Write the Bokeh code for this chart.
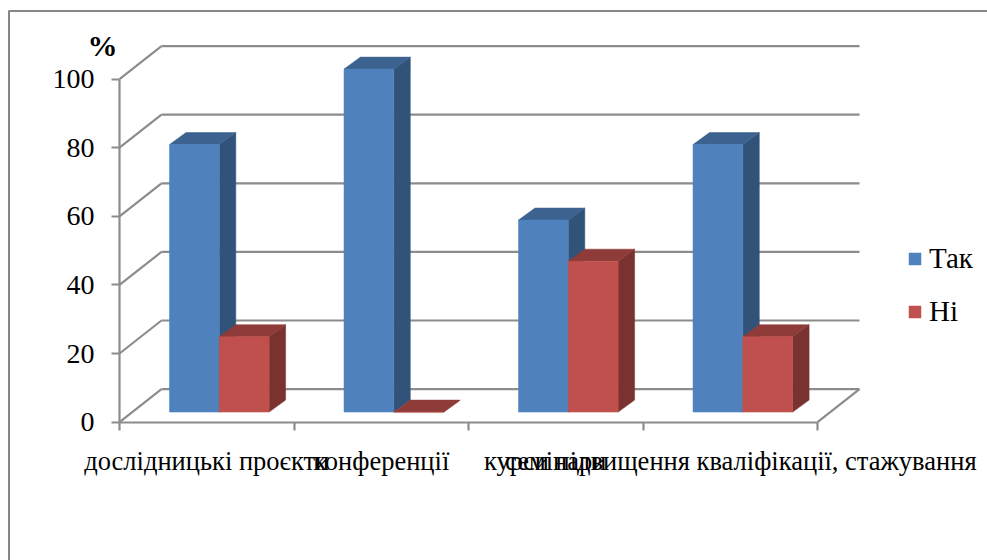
from bokeh.plotting import figure
from bokeh.embed import file_html
from bokeh.resources import INLINE
from bokeh.models import (ColumnDataSource, FixedTicker, Label, Legend, LegendItem,
                          LinearAxis, Range1d)

categories = ["дослідницькі проєкти", "конференції", "семінари",
              "курси підвищення кваліфікації, стажування"]
tak = [78, 100, 56, 78]
ni = [22, 0, 44, 22]
y_ticks = [0, 20, 40, 60, 80, 100]

W, H = 987, 560
PX = 174.5            # pixels per category
PY = 3.43             # pixels per percent
X0, Y0 = 119, 421.6   # canvas pixel of the axes origin


def dx(px):
    return px / PX


def dy(px):
    return px / PY


p = figure(width=W, height=H, output_backend="svg", toolbar_location=None,
           x_range=Range1d(dx(-X0), dx(W - X0)),
           y_range=Range1d(dy(-(H - Y0)), dy(Y0)),
           min_border=0, min_border_left=0, min_border_right=0,
           min_border_top=0, min_border_bottom=0, x_axis_type=None, y_axis_type=None)
p.grid.visible = False
p.outline_line_color = None
p.background_fill_color = "white"
p.border_fill_color = "white"

GRID = "#8c8c8c"
# outer chart frame
p.multi_line([[dx(-X0 + 8.5), dx(-X0 + 8.5), dx(W - X0)]],
             [[dy(-(H - Y0)), dy(Y0 - 10.5), dy(Y0 - 10.5)]], line_color="#868686", line_width=2)

# 3D walls: back gridlines and left wall diagonals
WX, WY = dx(42), dy(33)
n = len(categories)
p.multi_line([[WX, n + WX] for t in y_ticks], [[t + WY, t + WY] for t in y_ticks],
             line_color=GRID, line_width=2.2)
p.multi_line([[0, WX] for t in y_ticks], [[t, t + WY] for t in y_ticks],
             line_color=GRID, line_width=2.2)
p.line([n, n + WX], [0, WY], line_color=GRID, line_width=2.2)

# bars
BW = dx(49.8)
OX, OY = dx(50), dy(10)
SX, SY = dx(16.5), dy(12)
series = [("Так", tak, 0, "#4F81BD", "#325379", "#3C6390"),
          ("Ні", ni, 1, "#C0504D", "#7A3230", "#8E3B39")]
items = []
for name, vals, k, front, side, top in series:
    left = [i + OX + k * BW for i in range(n)]
    right = [a + BW for a in left]
    base = [OY] * n
    tops = [v + OY for v in vals]
    # side faces
    p.patches([[r, r, r + SX, r + SX] for r in right],
              [[b, t, t + SY, b + SY] for b, t in zip(base, tops)],
              fill_color=side, line_color=side, line_width=0.5)
    # top faces
    p.patches([[a, r, r + SX, a + SX] for a, r in zip(left, right)],
              [[t, t, t + SY, t + SY] for t in tops],
              fill_color=top, line_color=top, line_width=0.5)
    # front faces
    src = ColumnDataSource(dict(left=left, right=right, bottom=base, top=tops))
    r = p.quad(left="left", right="right", bottom="bottom", top="top", source=src,
               fill_color=front, line_color=front, line_width=0.5)
    items.append(LegendItem(label=name, renderers=[r]))

# axes
yaxis = LinearAxis(ticker=FixedTicker(ticks=y_ticks), bounds=(0, 100), fixed_location=0)
yaxis.axis_line_color = GRID
yaxis.axis_line_width = 2.2
yaxis.major_tick_line_color = GRID
yaxis.major_tick_line_width = 2.2
yaxis.major_tick_in = 0
yaxis.major_tick_out = 8
yaxis.minor_tick_line_color = None
yaxis.major_label_standoff = 17
yaxis.major_label_text_font = "Liberation Serif"
yaxis.major_label_text_font_size = "28px"
yaxis.major_label_text_color = "black"
p.add_layout(yaxis, "left")

label_ticks = [i + 0.5 for i in range(n)]
xaxis = LinearAxis(ticker=FixedTicker(ticks=label_ticks, minor_ticks=list(range(n + 1))),
                   bounds=(0, n), fixed_location=0)
xaxis.major_label_overrides = dict(zip(label_ticks, categories))
xaxis.axis_line_color = GRID
xaxis.axis_line_width = 2.2
xaxis.major_tick_line_color = None
xaxis.major_tick_in = 0
xaxis.major_tick_out = 0
xaxis.minor_tick_line_color = GRID
xaxis.minor_tick_line_width = 2.2
xaxis.minor_tick_in = 0
xaxis.minor_tick_out = 8
xaxis.major_label_standoff = 16
xaxis.major_label_text_font = "Liberation Serif"
xaxis.major_label_text_font_size = "26.5px"
xaxis.major_label_text_color = "black"
p.add_layout(xaxis, "below")

p.add_layout(Label(x=dx(-17), y=dy(376.6), x_units="data", y_units="data", text="%",
                   text_font="Liberation Serif", text_font_style="bold",
                   text_font_size="30px", text_align="center", text_baseline="middle",
                   text_color="black"))

legend = Legend(items=items, location=(907, 232), orientation="vertical",
                background_fill_alpha=0, border_line_color=None,
                glyph_width=15, glyph_height=15, spacing=20, padding=0, margin=0,
                label_text_font="Liberation Serif", label_text_font_size="29px",
                label_text_color="black", label_standoff=7, label_height=28)
p.add_layout(legend, "center")

open("out.html", "w").write(file_html(p, INLINE))
